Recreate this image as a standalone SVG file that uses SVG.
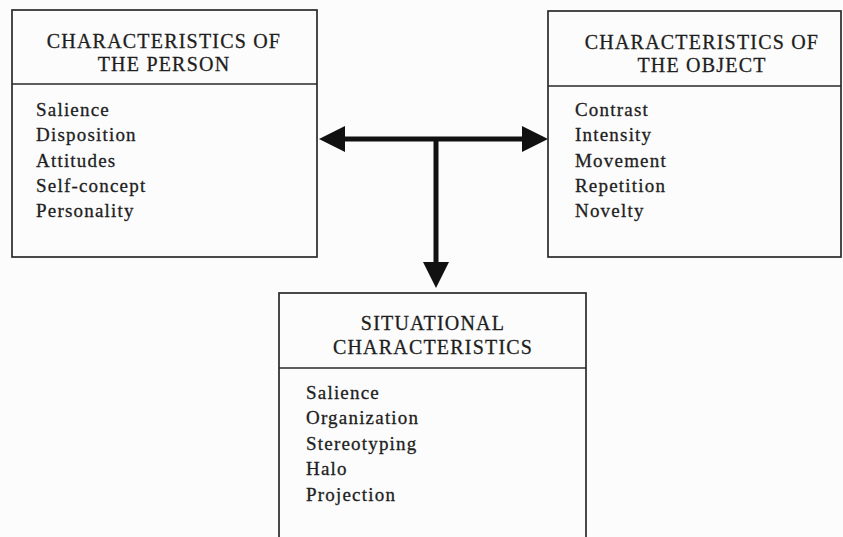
<svg xmlns="http://www.w3.org/2000/svg" width="843" height="537" viewBox="0 0 843 537">
  <style>
    .box { fill: none; stroke: #2a2a2a; stroke-width: 1.7; }
    .rule { stroke: #2a2a2a; stroke-width: 1.7; }
    .head { font-family: "Liberation Serif", "Times New Roman", serif; font-size: 20px; letter-spacing: 1.2px; fill: #1e1e1e; stroke: #1e1e1e; stroke-width: 0.3; text-anchor: middle; }
    .item { font-family: "Liberation Serif", "Times New Roman", serif; font-size: 19px; letter-spacing: 1.2px; fill: #1e1e1e; stroke: #1e1e1e; stroke-width: 0.3; }
    .link { stroke: #111; stroke-width: 5; fill: none; }
  </style>
  <defs>
    <marker id="arrow" markerUnits="userSpaceOnUse" markerWidth="26" markerHeight="26" viewBox="0 0 26 26" refX="10" refY="13" orient="auto-start-reverse">
      <path d="M0,0 L26,13 L0,26 z" fill="#111"/>
    </marker>
  </defs>
  <rect width="843" height="537" fill="#fcfcfc"/>

  <g id="person">
    <rect class="box" x="12" y="10" width="305" height="247"/>
    <line class="rule" x1="12" y1="84" x2="317" y2="84"/>
    <text class="head" x="164" y="48">CHARACTERISTICS OF</text>
    <text class="head" x="164" y="71">THE PERSON</text>
    <text class="item" x="36" y="116">Salience</text>
    <text class="item" x="36" y="141">Disposition</text>
    <text class="item" x="36" y="167">Attitudes</text>
    <text class="item" x="36" y="192">Self-concept</text>
    <text class="item" x="36" y="217">Personality</text>
  </g>

  <g id="object">
    <rect class="box" x="548" y="11" width="293" height="246"/>
    <line class="rule" x1="548" y1="86" x2="841" y2="86"/>
    <text class="head" x="702" y="49">CHARACTERISTICS OF</text>
    <text class="head" x="702" y="72">THE OBJECT</text>
    <text class="item" x="575" y="116">Contrast</text>
    <text class="item" x="575" y="141">Intensity</text>
    <text class="item" x="575" y="167">Movement</text>
    <text class="item" x="575" y="192">Repetition</text>
    <text class="item" x="575" y="217">Novelty</text>
  </g>

  <g id="situation">
    <rect class="box" x="279" y="293" width="307" height="260"/>
    <line class="rule" x1="279" y1="368" x2="586" y2="368"/>
    <text class="head" x="433" y="330">SITUATIONAL</text>
    <text class="head" x="433" y="354">CHARACTERISTICS</text>
    <text class="item" x="306" y="399">Salience</text>
    <text class="item" x="306" y="424">Organization</text>
    <text class="item" x="306" y="450">Stereotyping</text>
    <text class="item" x="306" y="475">Halo</text>
    <text class="item" x="306" y="501">Projection</text>
  </g>

  <g id="connectors">
    <path class="link" d="M335,139 L532,139" marker-start="url(#arrow)" marker-end="url(#arrow)"/>
    <path class="link" d="M436,137 L436,272" marker-end="url(#arrow)"/>
  </g>
</svg>
